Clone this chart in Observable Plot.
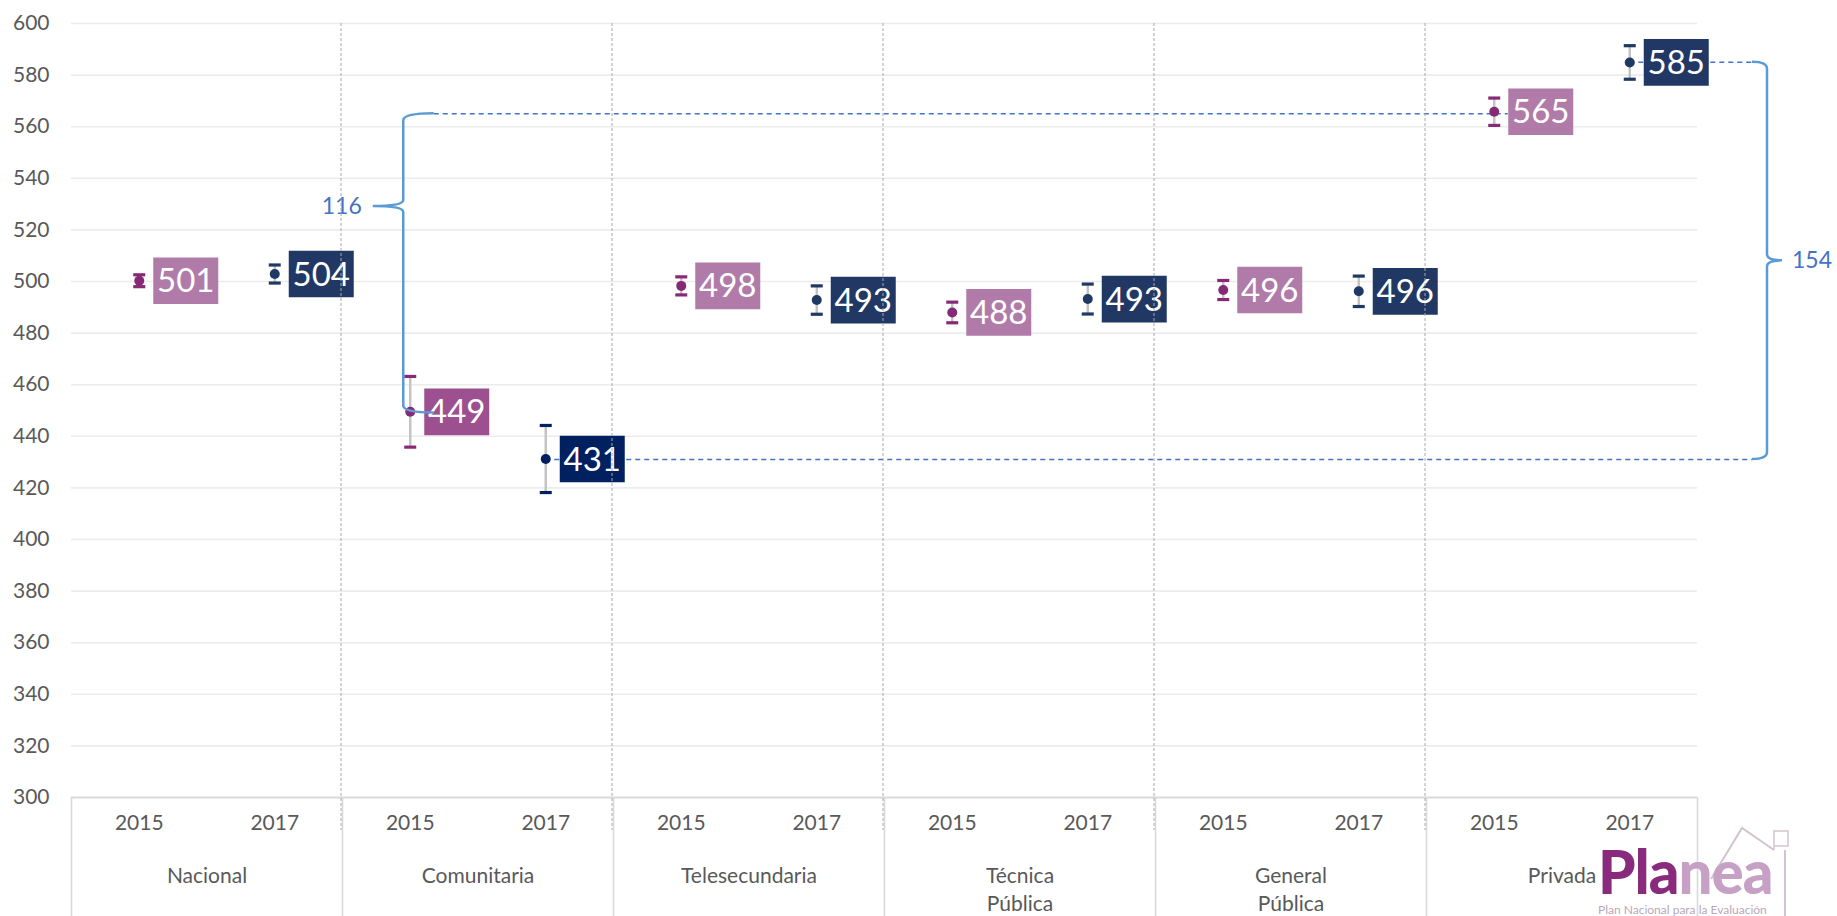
<!DOCTYPE html>
<html>
<head>
<meta charset="utf-8">
<script src="https://cdn.jsdelivr.net/npm/d3@7"></script>
<script src="https://cdn.jsdelivr.net/npm/@observablehq/plot@0.6"></script>
<style>
  html, body { margin: 0; padding: 0; background: #ffffff; }
  #wrap { position: relative; width: 1837px; height: 916px; overflow: hidden; font-family: Lato, sans-serif; }
  #chart svg { display: block; }
  #logo { position: absolute; left: 1598px; top: 841px; }
  #logo .marca { font: 900 60px Lato, sans-serif; line-height: 1; letter-spacing: -1px; white-space: nowrap; }
  #logo .lema { font: 12px Lato, sans-serif; color: #b9a7b8; margin-top: 1px; white-space: nowrap; }
  #casa { position: absolute; left: 0; top: 0; pointer-events: none; }
</style>
</head>
<body>
<div id="wrap">
  <div id="chart"></div>
  <svg id="casa" width="1837" height="916">
    <polyline points="1711,879 1742,828 1774,850" fill="none" stroke="#d3c3d1" stroke-width="2"/>
    <polyline points="1774,850 1774,831 1788,831 1788,846 1774,846" fill="none" stroke="#d3c3d1" stroke-width="1.5"/>
    <line x1="1785" y1="850" x2="1785" y2="916" stroke="#d3c3d1" stroke-width="2"/>
  </svg>
  <div id="logo">
    <div class="marca"><span style="color:#8a2a7c">Pla</span><span style="color:#c6a0c5">nea</span></div>
    <div class="lema">Plan Nacional para la Evaluación</div>
  </div>
</div>
<script>
// ---------- Data ----------
const categorias = ["Nacional", "Comunitaria", "Telesecundaria", "Técnica\nPública", "General\nPública", "Privada"];
const anios = ["2015", "2017"];
const puntaje2015 = [501, 449, 498, 488, 496, 565];   // labels shown in boxes
const puntaje2017 = [504, 431, 493, 493, 496, 585];
const media2015 = [500.3, 449.5, 498.3, 488.0, 496.7, 565.8]; // plotted point positions
const media2017 = [502.9, 431.2, 492.8, 493.2, 496.2, 584.9];
const error2015 = [2.3, 13.7, 3.5, 4.0, 3.7, 5.3];     // half-width of intervals
const error2017 = [3.5, 13.0, 5.5, 5.8, 5.9, 6.5];
const ticksY = [300, 320, 340, 360, 380, 400, 420, 440, 460, 480, 500, 520, 540, 560, 580, 600];
const brechaA = {desde: 565, hasta: 449, texto: "116"};
const brechaB = {desde: 585, hasta: 431, texto: "154"};

// ---------- Styles ----------
const colPunto = {"2015": "#862a75", "2017": "#203864"};
const colCaja = {"2015": "#b07ba8", "2017": "#213865"};
const colCajaCom = {"2015": "#9c5090", "2017": "#002060"};
const colPuntoCom = {"2015": "#862a75", "2017": "#002060"};
const azul = "#4472c4";
const azulLlave = "#5b9bd5";
const gris = "#595959";

// ---------- Table ----------
const filas = [];
categorias.forEach((c, i) => {
  [[puntaje2015, media2015, error2015], [puntaje2017, media2017, error2017]].forEach(([p, m, e], j) => {
    filas.push({categoria: c, idx: i, anio: anios[j], slot: 2 * i + j + 0.5, puntaje: p[i], media: m[i], error: e[i]});
  });
});
const slotDe = v => filas.find(d => d.puntaje === v).slot;
const fillPunto = d => d.idx === 1 ? colPuntoCom[d.anio] : colPunto[d.anio];
const fillCaja = d => d.idx === 1 ? colCajaCom[d.anio] : colCaja[d.anio];

const W = 1837, H = 916, mL = 71, mR = 140, mT = 23, mB = 119;
const frameH = H - mT - mB;

const caja = {draw(ctx) { ctx.rect(14, -23.35, 65, 46.7); }};
const tapa = {draw(ctx) { ctx.rect(-6, -1.6, 12, 3.2); }};

// Brace mark drawn through Plot's scales
function llave(b, opts) {
  return (index, scales) => {
    const {x, y} = scales;
    const ax = opts.anchor(x);
    const sx = ax + opts.spine, hx = ax + opts.hook, tx = ax + opts.tip;
    const yt = y(b.desde), yb = y(b.hasta);
    const ym = yt + opts.frac * (yb - yt);
    const r = 7, r2 = 6;
    const d = `M${hx},${yt} Q${sx},${yt} ${sx},${yt + r} L${sx},${ym - r2} Q${sx},${ym} ${tx},${ym} ` +
              `Q${sx},${ym} ${sx},${ym + r2} L${sx},${yb - r} Q${sx},${yb} ${hx},${yb}`;
    const g = d3.create("svg:g");
    g.append("path").attr("d", d).attr("fill", "none").attr("stroke", azulLlave).attr("stroke-width", 2.5);
    g.append("text").attr("x", ax + opts.label).attr("y", ym).attr("dy", "0.35em")
      .attr("text-anchor", opts.labelAnchor).attr("fill", azul)
      .attr("font-family", "Lato, sans-serif").attr("font-size", 23).text(b.texto);
    return g.node();
  };
}

const chart = Plot.plot({
  width: W, height: H,
  marginLeft: mL, marginRight: mR, marginTop: mT, marginBottom: mB,
  style: {fontFamily: "Lato, sans-serif", fontSize: "21px", color: gris, background: "#ffffff", overflow: "visible"},
  x: {domain: [0, 12], axis: null},
  y: {domain: [300, 600], ticks: ticksY, tickSize: 0, tickPadding: 22, label: null},
  marks: [
    // gridlines
    Plot.ruleY(ticksY.filter(t => t > 300), {stroke: "#ececec", strokeWidth: 1.6}),
    Plot.ruleY([300], {stroke: "#d9d9d9", strokeWidth: 2}),
    // category table lines below the axis
    Plot.ruleX(d3.range(0, 13, 2), {stroke: "#d9d9d9", strokeWidth: 1.6, insetTop: frameH, insetBottom: -mB}),
    // year labels
    Plot.text(filas, {x: "slot", text: "anio", frameAnchor: "bottom", dy: 32, fontSize: 21, fill: gris}),
    // category labels
    Plot.text(categorias, {x: (d, i) => 2 * i + 1, text: d => d, frameAnchor: "bottom", dy: 65,
      lineAnchor: "top", lineHeight: 1.35, fontSize: 21, fill: gris}),
    // dashed connector lines
    Plot.ruleY([brechaA.desde], {x1: slotDe(brechaA.hasta), x2: slotDe(brechaA.desde), insetLeft: 24, insetRight: -14,
      stroke: azul, strokeWidth: 1.5, strokeDasharray: "5,4"}),
    Plot.ruleY([brechaB.desde], {x1: slotDe(brechaB.desde), x2: 12, insetRight: -55,
      stroke: azul, strokeWidth: 1.5, strokeDasharray: "5,4"}),
    Plot.ruleY([brechaB.hasta], {x1: slotDe(brechaB.hasta), x2: 12, insetRight: -55,
      stroke: azul, strokeWidth: 1.5, strokeDasharray: "5,4"}),
    // error bars
    Plot.ruleX(filas, {x: "slot", y1: d => d.media - d.error, y2: d => d.media + d.error, stroke: "#c4c4c4", strokeWidth: 2.5}),
    Plot.dot(filas, {x: "slot", y: d => d.media - d.error, symbol: tapa, fill: fillPunto}),
    Plot.dot(filas, {x: "slot", y: d => d.media + d.error, symbol: tapa, fill: fillPunto}),
    Plot.dot(filas, {x: "slot", y: "media", r: 5, fill: fillPunto}),
    // value boxes
    Plot.dot(filas, {x: "slot", y: "media", symbol: caja, fill: fillCaja}),
    Plot.text(filas, {x: "slot", y: "media", dx: 46.5, dy: 1, text: d => String(d.puntaje), fill: "#ffffff", fontSize: 33}),
    // braces
    llave(brechaA, {anchor: x => x(slotDe(brechaA.hasta)), spine: -6.5, hook: 24, tip: -37, label: -48, labelAnchor: "end", frac: 0.31}),
    llave(brechaB, {anchor: x => x(12), spine: 70, hook: 55, tip: 85, label: 95, labelAnchor: "start", frac: 0.5}),
    // dashed group separators
    Plot.ruleX(d3.range(2, 12, 2), {stroke: "#a8a8a8", strokeWidth: 1, strokeDasharray: "3,2", dx: -1.5, insetBottom: -33})
  ]
});
document.getElementById("chart").appendChild(chart);
</script>
</body>
</html>
